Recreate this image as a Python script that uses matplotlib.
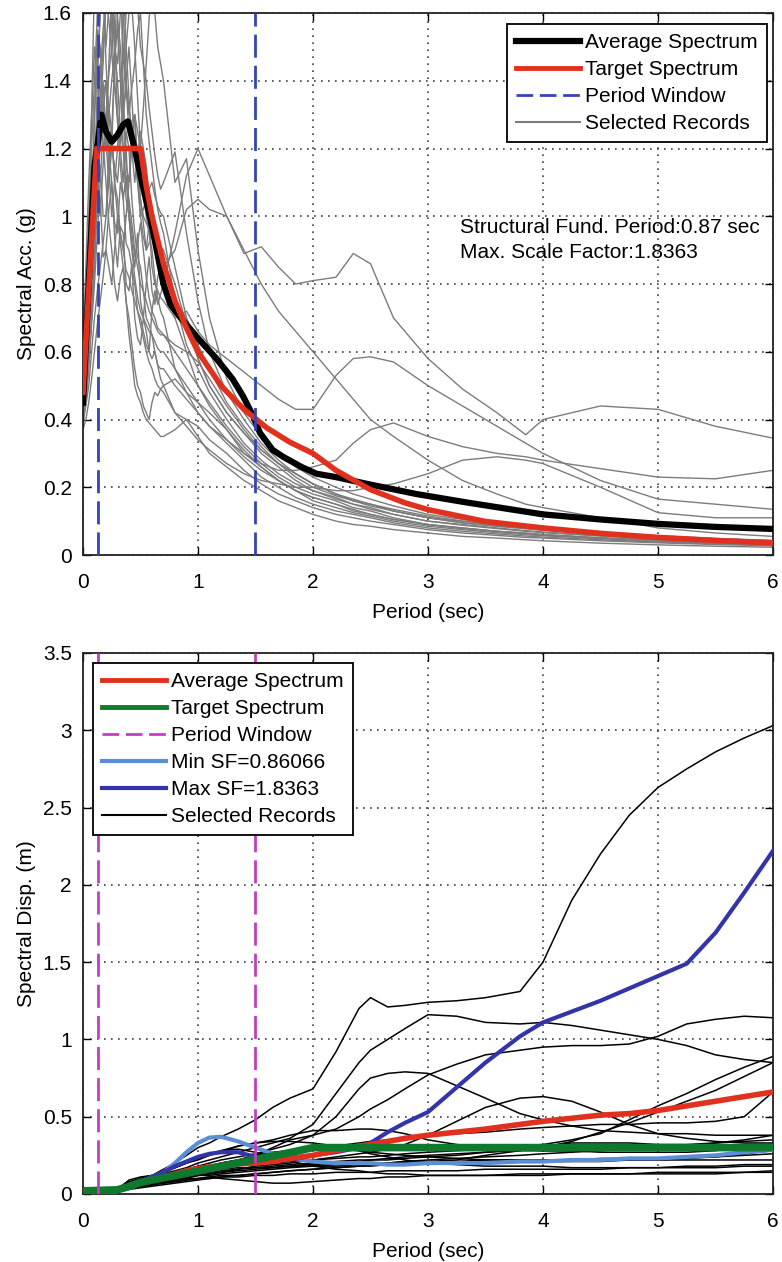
"""Spectral acceleration / displacement of selected ground-motion records."""

import matplotlib
matplotlib.use("Agg")
import matplotlib.pyplot as plt
from matplotlib.lines import Line2D

plt.rcParams["font.family"] = ["Liberation Sans", "DejaVu Sans"]
plt.rcParams["font.size"] = 15

# ---- data: spectral acceleration (g) ---------------------------------------
period_window = [0.13, 1.5]

# short periods (0 - 0.675 s, every 0.025 s) and long periods (0.7 - 6 s)
acc_short_period = [0, 0.025, 0.05, 0.075, 0.1, 0.125, 0.15, 0.175, 0.2, 0.225,
                    0.25, 0.275, 0.3, 0.325, 0.35, 0.375, 0.4, 0.425, 0.45, 0.475,
                    0.5, 0.525, 0.55, 0.575, 0.6, 0.625, 0.65, 0.675]
acc_long_period = [0.7, 0.8, 0.9, 1.0, 1.1, 1.25, 1.4, 1.55, 1.7, 1.85,
                   2.0, 2.2, 2.35, 2.5, 2.7, 3.0, 3.3, 3.6, 3.85, 4.0,
                   4.5, 5.0, 5.5, 6.0]

acc_short_records = [
    [0.40, 0.48, 0.62, 0.80, 0.95, 1.12, 1.05, 0.88, 0.90, 1.02,
     1.10, 0.94, 0.85, 0.97, 0.95, 0.80, 0.78, 0.86, 0.70, 0.64,
     0.62, 0.70, 0.66, 0.60, 0.72, 0.78, 0.74, 0.77],
    [0.45, 0.55, 0.70, 0.95, 1.30, 1.55, 1.50, 1.30, 1.25, 1.45,
     1.65, 1.50, 1.40, 1.25, 1.20, 1.05, 1.00, 0.92, 0.85, 0.95,
     0.75, 0.70, 0.80, 0.88, 0.78, 0.74, 0.82, 0.86],
    [0.50, 0.58, 0.70, 0.90, 1.10, 1.40, 1.60, 1.75, 1.45, 1.30,
     1.20, 1.45, 1.75, 1.90, 1.30, 1.15, 1.10, 1.25, 1.30, 1.12,
     1.00, 0.94, 0.90, 0.98, 0.85, 0.80, 0.78, 0.76],
    [0.46, 0.52, 0.65, 0.80, 0.95, 1.10, 1.25, 1.35, 1.40, 1.20,
     1.10, 0.98, 0.95, 1.10, 1.05, 0.92, 0.90, 0.85, 0.80, 0.72,
     0.70, 0.66, 0.62, 0.60, 0.58, 0.60, 0.56, 0.55],
    [0.41, 0.48, 0.58, 0.70, 0.85, 1.05, 1.15, 1.00, 1.00, 1.18,
     1.25, 1.10, 1.05, 0.95, 0.90, 0.84, 0.82, 0.78, 0.75, 0.72,
     0.68, 0.64, 0.60, 0.57, 0.55, 0.52, 0.50, 0.49],
    [0.42, 0.60, 0.90, 1.30, 1.70, 1.95, 1.90, 1.65, 1.50, 1.62,
     1.80, 1.55, 1.30, 1.20, 1.10, 1.25, 1.20, 1.05, 0.95, 0.88,
     0.85, 0.78, 0.70, 0.68, 0.65, 0.60, 0.56, 0.52],
    [0.55, 0.75, 1.00, 1.20, 1.40, 1.60, 1.75, 1.90, 2.00, 1.80,
     1.60, 1.50, 1.45, 1.60, 1.70, 1.50, 1.35, 1.20, 1.10, 1.18,
     1.25, 1.20, 1.15, 1.05, 0.95, 0.90, 0.86, 0.82],
    [0.38, 0.45, 0.55, 0.68, 0.80, 0.95, 1.10, 1.25, 1.30, 1.15,
     1.00, 1.10, 1.20, 1.35, 1.45, 1.60, 1.70, 1.62, 1.50, 1.35,
     1.20, 1.08, 1.00, 0.95, 0.90, 0.82, 0.76, 0.72],
    [0.50, 0.62, 0.80, 1.00, 1.20, 1.05, 1.00, 1.15, 1.30, 1.42,
     1.50, 1.68, 1.80, 1.70, 1.60, 1.40, 1.30, 1.38, 1.45, 1.55,
     1.60, 1.45, 1.30, 1.22, 1.15, 1.08, 1.02, 0.98],
    [0.45, 0.50, 0.60, 0.75, 0.90, 1.10, 1.30, 1.22, 1.10, 0.98,
     0.90, 0.80, 0.75, 0.82, 0.85, 0.75, 0.70, 0.62, 0.55, 0.50,
     0.48, 0.44, 0.42, 0.40, 0.45, 0.48, 0.47, 0.49],
    [0.40, 0.44, 0.50, 0.60, 0.70, 0.78, 0.85, 0.92, 1.00, 1.10,
     1.20, 1.15, 1.10, 1.22, 1.35, 1.50, 1.60, 1.68, 1.75, 1.62,
     1.50, 1.45, 1.40, 1.32, 1.25, 1.18, 1.12, 1.08],
    [0.60, 0.85, 1.10, 1.30, 1.50, 1.40, 1.30, 1.45, 1.65, 1.80,
     1.90, 1.75, 1.60, 1.40, 1.20, 1.10, 1.05, 0.98, 0.90, 0.85,
     0.80, 0.78, 0.75, 0.72, 0.70, 0.68, 0.66, 0.65],
    [0.37, 0.40, 0.45, 0.52, 0.60, 0.68, 0.75, 0.82, 0.90, 0.85,
     0.80, 0.90, 1.00, 0.95, 0.90, 1.00, 1.10, 1.20, 1.30, 1.25,
     1.20, 1.32, 1.45, 1.58, 1.70, 1.60, 1.50, 1.45],
    [0.48, 0.58, 0.70, 0.85, 1.00, 1.10, 1.20, 1.30, 1.40, 1.32,
     1.25, 1.10, 1.00, 0.92, 0.85, 0.75, 0.65, 0.58, 0.50, 0.47,
     0.45, 0.42, 0.40, 0.39, 0.38, 0.37, 0.36, 0.35],
    [0.43, 0.55, 0.75, 1.00, 1.30, 1.45, 1.60, 1.68, 1.75, 1.95,
     2.10, 2.00, 1.90, 1.70, 1.50, 1.38, 1.25, 1.28, 1.30, 1.15,
     1.05, 0.98, 0.90, 0.92, 0.95, 0.92, 0.88, 0.86],
    [0.52, 0.68, 0.85, 0.98, 1.10, 1.28, 1.45, 1.32, 1.20, 1.30,
     1.40, 1.48, 1.55, 1.42, 1.30, 1.40, 1.50, 1.35, 1.20, 1.10,
     1.00, 1.02, 1.05, 1.08, 1.10, 1.06, 1.03, 1.01],
    [0.44, 0.52, 0.66, 0.82, 1.00, 1.20, 1.35, 1.50, 1.62, 1.70,
     1.55, 1.40, 1.28, 1.15, 1.05, 1.12, 1.00, 0.90, 0.82, 0.76,
     0.72, 0.70, 0.68, 0.66, 0.65, 0.63, 0.61, 0.60],
    [0.39, 0.46, 0.56, 0.70, 0.88, 1.05, 1.25, 1.40, 1.22, 1.10,
     1.25, 1.45, 1.58, 1.50, 1.35, 1.20, 1.02, 0.95, 0.88, 0.92,
     0.98, 0.90, 0.82, 0.76, 0.72, 0.70, 0.67, 0.66],
    [0.47, 0.60, 0.78, 0.96, 1.15, 1.30, 1.42, 1.55, 1.65, 1.58,
     1.48, 1.38, 1.30, 1.22, 1.30, 1.38, 1.32, 1.25, 1.18, 1.10,
     1.05, 1.00, 0.98, 0.96, 0.94, 0.93, 0.92, 0.91],
]

acc_long_records = [
    [0.80, 0.95, 1.12, 1.20, 1.12, 1.00, 0.89, 0.91, 0.85, 0.80,
     0.81, 0.82, 0.89, 0.86, 0.70, 0.58, 0.49, 0.42, 0.355, 0.40,
     0.44, 0.43, 0.38, 0.345],
    [0.85, 0.90, 1.02, 1.05, 1.02, 1.00, 0.90, 0.80, 0.72, 0.66,
     0.60, 0.52, 0.46, 0.40, 0.35, 0.28, 0.22, 0.18, 0.15, 0.14,
     0.11, 0.08, 0.065, 0.055],
    [0.75, 0.70, 0.72, 0.66, 0.62, 0.58, 0.54, 0.50, 0.46, 0.43,
     0.43, 0.53, 0.58, 0.585, 0.57, 0.50, 0.44, 0.38, 0.33, 0.30,
     0.22, 0.165, 0.15, 0.135],
    [0.55, 0.50, 0.46, 0.42, 0.38, 0.34, 0.30, 0.27, 0.25, 0.25,
     0.26, 0.28, 0.33, 0.37, 0.39, 0.35, 0.32, 0.30, 0.29, 0.28,
     0.255, 0.23, 0.225, 0.25],
    [0.48, 0.42, 0.38, 0.34, 0.31, 0.27, 0.24, 0.22, 0.21, 0.20,
     0.20, 0.19, 0.19, 0.20, 0.21, 0.24, 0.28, 0.29, 0.28, 0.27,
     0.20, 0.125, 0.11, 0.11],
    [0.50, 0.42, 0.40, 0.35, 0.30, 0.26, 0.22, 0.19, 0.16, 0.14,
     0.12, 0.10, 0.09, 0.085, 0.075, 0.065, 0.055, 0.05, 0.045, 0.042,
     0.035, 0.03, 0.026, 0.023],
    [0.80, 0.70, 0.60, 0.50, 0.45, 0.38, 0.32, 0.27, 0.23, 0.20,
     0.18, 0.16, 0.14, 0.13, 0.11, 0.09, 0.08, 0.07, 0.063, 0.06,
     0.05, 0.042, 0.036, 0.032],
    [0.70, 0.55, 0.48, 0.45, 0.42, 0.37, 0.30, 0.26, 0.22, 0.19,
     0.17, 0.15, 0.13, 0.12, 0.105, 0.09, 0.08, 0.07, 0.065, 0.06,
     0.05, 0.044, 0.038, 0.033],
    [0.95, 0.75, 0.62, 0.55, 0.48, 0.40, 0.33, 0.28, 0.24, 0.21,
     0.19, 0.17, 0.15, 0.14, 0.12, 0.10, 0.09, 0.08, 0.072, 0.068,
     0.057, 0.048, 0.042, 0.037],
    [0.50, 0.52, 0.48, 0.42, 0.38, 0.33, 0.28, 0.23, 0.20, 0.17,
     0.15, 0.13, 0.12, 0.11, 0.095, 0.08, 0.07, 0.062, 0.056, 0.053,
     0.045, 0.038, 0.033, 0.029],
    [1.10, 1.19, 0.95, 0.75, 0.60, 0.48, 0.40, 0.33, 0.28, 0.24,
     0.21, 0.18, 0.16, 0.15, 0.13, 0.11, 0.095, 0.085, 0.078, 0.074,
     0.062, 0.053, 0.046, 0.04],
    [0.65, 0.60, 0.55, 0.50, 0.44, 0.37, 0.31, 0.26, 0.22, 0.19,
     0.16, 0.14, 0.125, 0.115, 0.10, 0.085, 0.075, 0.066, 0.06, 0.057,
     0.048, 0.041, 0.035, 0.031],
    [1.40, 1.10, 1.17, 0.90, 0.70, 0.52, 0.42, 0.35, 0.30, 0.26,
     0.23, 0.20, 0.18, 0.165, 0.145, 0.12, 0.105, 0.093, 0.085, 0.08,
     0.067, 0.057, 0.049, 0.043],
    [0.35, 0.37, 0.40, 0.38, 0.34, 0.30, 0.25, 0.21, 0.18, 0.16,
     0.14, 0.12, 0.11, 0.10, 0.09, 0.075, 0.065, 0.058, 0.052, 0.05,
     0.042, 0.036, 0.031, 0.027],
    [0.85, 0.75, 0.70, 0.62, 0.55, 0.45, 0.38, 0.32, 0.27, 0.24,
     0.21, 0.18, 0.16, 0.15, 0.13, 0.11, 0.10, 0.088, 0.08, 0.076,
     0.064, 0.055, 0.048, 0.042],
    [1.00, 0.85, 0.70, 0.58, 0.50, 0.42, 0.36, 0.30, 0.26, 0.22,
     0.19, 0.165, 0.15, 0.135, 0.12, 0.10, 0.088, 0.078, 0.07, 0.066,
     0.056, 0.047, 0.041, 0.036],
    [0.60, 0.55, 0.50, 0.45, 0.40, 0.34, 0.29, 0.25, 0.22, 0.19,
     0.17, 0.15, 0.135, 0.12, 0.105, 0.09, 0.078, 0.07, 0.064, 0.06,
     0.051, 0.044, 0.038, 0.034],
    [0.65, 0.62, 0.60, 0.57, 0.52, 0.44, 0.37, 0.31, 0.27, 0.23,
     0.20, 0.175, 0.16, 0.145, 0.13, 0.11, 0.095, 0.085, 0.078, 0.073,
     0.062, 0.052, 0.045, 0.04],
    [0.90, 0.80, 0.68, 0.58, 0.50, 0.42, 0.36, 0.31, 0.27, 0.24,
     0.21, 0.18, 0.165, 0.15, 0.135, 0.115, 0.1, 0.09, 0.082, 0.077,
     0.065, 0.055, 0.048, 0.042],
]

avg_acc_period = [0, 0.05, 0.1, 0.13, 0.16, 0.2, 0.25, 0.3, 0.35, 0.39, 0.45, 0.5,
                  0.6, 0.7, 0.76, 0.85, 1.0, 1.16, 1.3, 1.39, 1.48, 1.54, 1.65,
                  1.74, 1.9, 2.03, 2.2, 2.47, 2.9, 3.34, 4.0, 4.5, 5.0, 5.5, 6.0]
avg_acc = [0.45, 0.80, 1.15, 1.22, 1.30, 1.25, 1.22, 1.24, 1.27, 1.28, 1.20, 1.12,
           0.97, 0.80, 0.74, 0.70, 0.64, 0.58, 0.52, 0.47, 0.41, 0.36, 0.31,
           0.29, 0.26, 0.24, 0.23, 0.21, 0.18, 0.155, 0.12, 0.105, 0.092, 0.083, 0.077]

target_acc_period = [0, 0.12, 0.5, 0.55, 0.6, 0.7, 0.8, 0.9, 1.0, 1.2, 1.4, 1.6,
                     1.8, 2.0, 2.2, 2.5, 2.8, 3.0, 3.5, 4.0, 4.5, 5.0, 5.5, 6.0]
target_acc = [0.48, 1.20, 1.20, 1.09, 1.00, 0.86, 0.75, 0.67, 0.60, 0.50, 0.43,
              0.375, 0.333, 0.30, 0.25, 0.193, 0.154, 0.134, 0.099, 0.08, 0.064,
              0.052, 0.043, 0.036]

# ---- data: spectral displacement (m) ---------------------------------------
disp_period = [0, 0.1, 0.2, 0.3, 0.4, 0.5, 0.6, 0.7, 0.8, 0.9, 1.0, 1.1, 1.2, 1.35,
               1.5, 1.65, 1.8, 2.0, 2.2, 2.4, 2.5, 2.65, 2.8, 3.0, 3.25, 3.5, 3.8,
               4.0, 4.25, 4.5, 4.75, 5.0, 5.25, 5.5, 5.75, 6.0]

disp_records = [
    [0.0, 0.003, 0.012, 0.03, 0.09, 0.11, 0.12, 0.16, 0.20, 0.25,
     0.30, 0.33, 0.37, 0.42, 0.48, 0.56, 0.62, 0.68,
     0.92, 1.20, 1.27, 1.21, 1.22, 1.24,
     1.25, 1.27, 1.31, 1.50, 1.90, 2.20, 2.45, 2.63,
     2.75, 2.86, 2.95, 3.03],
    [0.0, 0.002, 0.01, 0.025, 0.05, 0.08, 0.10, 0.13, 0.15, 0.17,
     0.20, 0.22, 0.24, 0.27, 0.30, 0.33, 0.36, 0.45,
     0.65, 0.85, 0.93, 1.00, 1.07, 1.16,
     1.15, 1.11, 1.10, 1.11, 1.09, 1.06, 1.03, 1.00,
     0.96, 0.90, 0.87, 0.85],
    [0.0, 0.002, 0.008, 0.02, 0.04, 0.06, 0.08, 0.10, 0.13, 0.15,
     0.17, 0.18, 0.20, 0.22, 0.25, 0.30, 0.35, 0.38,
     0.42, 0.50, 0.55, 0.61, 0.68, 0.77,
     0.84, 0.90, 0.93, 0.95, 0.96, 0.96, 0.97, 1.02,
     1.10, 1.13, 1.15, 1.14],
    [0.0, 0.003, 0.01, 0.03, 0.06, 0.08, 0.10, 0.12, 0.14, 0.16,
     0.18, 0.20, 0.22, 0.24, 0.26, 0.29, 0.32, 0.38,
     0.50, 0.68, 0.75, 0.78, 0.79, 0.78,
     0.70, 0.62, 0.52, 0.48, 0.44, 0.41, 0.40, 0.39,
     0.39, 0.38, 0.38, 0.38],
    [0.0, 0.002, 0.008, 0.02, 0.04, 0.05, 0.06, 0.08, 0.09, 0.10,
     0.12, 0.13, 0.14, 0.16, 0.18, 0.19, 0.20, 0.22,
     0.24, 0.26, 0.27, 0.29, 0.32, 0.38,
     0.47, 0.56, 0.62, 0.63, 0.60, 0.53, 0.45, 0.39,
     0.36, 0.34, 0.33, 0.33],
    [0.0, 0.002, 0.01, 0.03, 0.06, 0.07, 0.08, 0.10, 0.12, 0.14,
     0.16, 0.17, 0.18, 0.19, 0.20, 0.20, 0.21, 0.22,
     0.23, 0.24, 0.24, 0.25, 0.26, 0.27,
     0.28, 0.29, 0.31, 0.32, 0.35, 0.39, 0.48, 0.57,
     0.65, 0.74, 0.82, 0.89],
    [0.0, 0.002, 0.01, 0.02, 0.04, 0.06, 0.07, 0.08, 0.10, 0.11,
     0.12, 0.13, 0.14, 0.15, 0.16, 0.17, 0.18, 0.19,
     0.20, 0.21, 0.22, 0.22, 0.23, 0.24,
     0.25, 0.27, 0.29, 0.30, 0.34, 0.40, 0.46, 0.53,
     0.60, 0.67, 0.76, 0.85],
    [0.0, 0.002, 0.01, 0.03, 0.05, 0.07, 0.09, 0.10, 0.12, 0.13,
     0.15, 0.17, 0.19, 0.21, 0.23, 0.25, 0.27, 0.29,
     0.31, 0.33, 0.34, 0.35, 0.36, 0.38,
     0.39, 0.40, 0.42, 0.43, 0.44, 0.45, 0.45, 0.46,
     0.46, 0.47, 0.50, 0.66],
    [0.0, 0.003, 0.012, 0.03, 0.07, 0.10, 0.12, 0.14, 0.17, 0.20,
     0.22, 0.25, 0.27, 0.31, 0.33, 0.35, 0.38, 0.41,
     0.41, 0.42, 0.42, 0.41, 0.39, 0.35,
     0.32, 0.30, 0.29, 0.28, 0.28, 0.29, 0.30, 0.30,
     0.31, 0.31, 0.32, 0.32],
    [0.0, 0.002, 0.01, 0.02, 0.04, 0.06, 0.08, 0.09, 0.10, 0.11,
     0.12, 0.12, 0.13, 0.14, 0.15, 0.16, 0.17, 0.18,
     0.19, 0.20, 0.20, 0.20, 0.21, 0.21,
     0.21, 0.22, 0.22, 0.22, 0.22, 0.23, 0.23, 0.23,
     0.24, 0.24, 0.25, 0.26],
    [0.0, 0.002, 0.008, 0.02, 0.03, 0.05, 0.06, 0.07, 0.08, 0.09,
     0.10, 0.10, 0.11, 0.11, 0.12, 0.12, 0.13, 0.13,
     0.14, 0.14, 0.14, 0.15, 0.15, 0.15,
     0.15, 0.16, 0.16, 0.16, 0.16, 0.16, 0.17, 0.17,
     0.17, 0.17, 0.18, 0.18],
    [0.0, 0.003, 0.01, 0.03, 0.05, 0.08, 0.10, 0.12, 0.13, 0.14,
     0.16, 0.18, 0.20, 0.22, 0.25, 0.27, 0.28, 0.29,
     0.29, 0.28, 0.27, 0.26, 0.25, 0.24,
     0.23, 0.22, 0.22, 0.21, 0.21, 0.21, 0.22, 0.22,
     0.23, 0.24, 0.26, 0.28],
    [0.0, 0.002, 0.008, 0.02, 0.04, 0.05, 0.06, 0.07, 0.08, 0.09,
     0.10, 0.11, 0.10, 0.09, 0.08, 0.07, 0.07, 0.08,
     0.09, 0.10, 0.10, 0.11, 0.11, 0.12,
     0.12, 0.12, 0.13, 0.13, 0.13, 0.13, 0.13, 0.14,
     0.14, 0.14, 0.14, 0.15],
    [0.0, 0.002, 0.01, 0.03, 0.06, 0.09, 0.11, 0.14, 0.17, 0.20,
     0.23, 0.25, 0.28, 0.31, 0.33, 0.34, 0.34, 0.33,
     0.31, 0.28, 0.26, 0.24, 0.22, 0.20,
     0.19, 0.18, 0.18, 0.18, 0.17, 0.17, 0.17, 0.17,
     0.18, 0.18, 0.19, 0.19],
    [0.0, 0.003, 0.012, 0.04, 0.08, 0.10, 0.12, 0.13, 0.14, 0.15,
     0.15, 0.16, 0.16, 0.17, 0.17, 0.17, 0.18, 0.18,
     0.18, 0.19, 0.19, 0.20, 0.20, 0.20,
     0.21, 0.21, 0.21, 0.22, 0.22, 0.22, 0.22, 0.22,
     0.22, 0.22, 0.22, 0.22],
    [0.0, 0.002, 0.008, 0.02, 0.03, 0.04, 0.05, 0.06, 0.07, 0.08,
     0.09, 0.10, 0.11, 0.12, 0.13, 0.14, 0.15, 0.16,
     0.17, 0.18, 0.19, 0.20, 0.21, 0.22,
     0.23, 0.24, 0.25, 0.26, 0.27, 0.28, 0.29, 0.30,
     0.31, 0.33, 0.34, 0.35],
    [0.0, 0.002, 0.01, 0.03, 0.05, 0.08, 0.11, 0.14, 0.17, 0.20,
     0.23, 0.26, 0.28, 0.29, 0.27, 0.24, 0.21, 0.18,
     0.16, 0.15, 0.14, 0.13, 0.13, 0.12,
     0.12, 0.12, 0.12, 0.12, 0.13, 0.13, 0.13, 0.13,
     0.13, 0.13, 0.14, 0.14],
    [0.0, 0.003, 0.01, 0.03, 0.05, 0.07, 0.09, 0.10, 0.11, 0.12,
     0.13, 0.14, 0.15, 0.16, 0.17, 0.18, 0.19, 0.20,
     0.21, 0.22, 0.22, 0.23, 0.24, 0.25,
     0.26, 0.27, 0.28, 0.28, 0.28, 0.27, 0.27, 0.27,
     0.27, 0.28, 0.30, 0.32],
    [0.0, 0.002, 0.01, 0.02, 0.04, 0.06, 0.07, 0.08, 0.09, 0.10,
     0.10, 0.11, 0.12, 0.12, 0.13, 0.14, 0.15, 0.16,
     0.17, 0.18, 0.18, 0.19, 0.20, 0.21,
     0.22, 0.25, 0.28, 0.31, 0.33, 0.33, 0.33, 0.32,
     0.32, 0.33, 0.35, 0.38],
]

avg_disp = [0.02, 0.02, 0.02, 0.025, 0.05, 0.07, 0.09, 0.11, 0.13, 0.15,
            0.165, 0.175, 0.185, 0.195, 0.20, 0.21, 0.23, 0.25,
            0.28, 0.31, 0.32, 0.34, 0.36, 0.38,
            0.40, 0.42, 0.45, 0.47, 0.49, 0.51, 0.52, 0.54,
            0.57, 0.60, 0.63, 0.66]

min_sf_disp = [0.0, 0.0, 0.005, 0.02, 0.05, 0.08, 0.11, 0.14, 0.20, 0.27,
               0.33, 0.365, 0.37, 0.34, 0.30, 0.26, 0.23, 0.21,
               0.20, 0.20, 0.20, 0.19, 0.19, 0.20,
               0.20, 0.20, 0.21, 0.21, 0.22, 0.22, 0.23, 0.23,
               0.24, 0.25, 0.27, 0.285]

max_sf_disp = [0.0, 0.0, 0.005, 0.02, 0.05, 0.08, 0.11, 0.14, 0.18, 0.21,
               0.24, 0.26, 0.27, 0.27, 0.24, 0.22, 0.22, 0.25,
               0.27, 0.30, 0.33, 0.40, 0.46, 0.53,
               0.69, 0.85, 1.02, 1.11, 1.18, 1.25, 1.33, 1.41,
               1.49, 1.69, 1.95, 2.22]

target_disp_period = [0, 0.3, 0.4, 0.5, 0.75, 1.0, 1.25, 1.5, 1.75, 2.0, 3.0, 4.0, 5.0, 6.0]
target_disp = [0.02, 0.027, 0.048, 0.075, 0.112, 0.149, 0.186, 0.224, 0.26, 0.30,
               0.30, 0.30, 0.30, 0.30]

# ---- styling ----------------------------------------------------------------
GREY = "#7c7c7c"
RED = "#e2301f"
GREEN = "#0f7a2e"
WIN_BLUE = "#3345b5"
MAGENTA = "#c23ec2"
LIGHT_BLUE = "#5a8fd6"
DARK_BLUE = "#3434aa"


def style_axes(ax, ymax, ystep, ylabels):
    ax.set_xlim(0, 6)
    ax.set_ylim(0, ymax)
    ax.set_xticks(range(7))
    ax.set_yticks([i * ystep for i in range(len(ylabels))])
    ax.set_yticklabels(ylabels)
    ax.grid(True, linestyle=(0, (1, 3.2)), color="#404040", linewidth=1.2)
    ax.set_axisbelow(True)
    ax.tick_params(direction="in", length=6, width=1.0, top=True, right=True,
                   labelsize=15)
    ax.tick_params(axis="x", pad=13)
    ax.tick_params(axis="y", pad=8)
    for s in ax.spines.values():
        s.set_linewidth(1.3)
        s.set_color("#222222")
    ax.set_xlabel("Period (sec)", fontsize=15, labelpad=8)


def legend(ax, handles, loc, anchor):
    leg = ax.legend(handles=handles, loc=loc, bbox_to_anchor=anchor,
                    borderaxespad=0, fontsize=15, handlelength=3.05,
                    handletextpad=0.25, labelspacing=0.38, borderpad=0.45,
                    fancybox=False, framealpha=1, edgecolor="black")
    leg.get_frame().set_linewidth(1.3)
    leg.set_zorder(20)


fig = plt.figure(figsize=(7.82, 12.62), dpi=100)

# ---- top: spectral acceleration ---------------------------------------------
ax1 = fig.add_axes([0.1061, 0.5602, 0.8824, 0.4295])
for short, long_ in zip(acc_short_records, acc_long_records):
    ax1.plot(acc_short_period + acc_long_period, short + long_,
             color=GREY, lw=1.0, zorder=2)
ax1.plot(avg_acc_period, avg_acc, color="black", lw=4.5, zorder=3)
ax1.plot(target_acc_period, target_acc, color=RED, lw=4.0, zorder=4)
for t in period_window:
    ax1.axvline(t, color=WIN_BLUE, lw=2, dashes=(8.3, 2.9), zorder=5)
style_axes(ax1, 1.6, 0.2, ["0", "0.2", "0.4", "0.6", "0.8", "1", "1.2", "1.4", "1.6"])
ax1.set_ylabel("Spectral Acc. (g)", fontsize=15, labelpad=5)
ax1.text(3.28, 0.967, "Structural Fund. Period:0.87 sec", fontsize=15, va="center")
ax1.text(3.28, 0.893, "Max. Scale Factor:1.8363", fontsize=15, va="center")
legend(ax1, [
    Line2D([], [], color="black", lw=4.5, label="Average Spectrum"),
    Line2D([], [], color=RED, lw=3.5, label="Target Spectrum"),
    Line2D([], [], color=WIN_BLUE, lw=2, dashes=(6, 2.4), label="Period Window"),
    Line2D([], [], color=GREY, lw=1.5, label="Selected Records"),
], "upper right", (0.991, 0.980))

# ---- bottom: spectral displacement ------------------------------------------
ax2 = fig.add_axes([0.1061, 0.0539, 0.8824, 0.4287])
for rec in disp_records:
    ax2.plot(disp_period, rec, color="black", lw=1.1, zorder=2)
ax2.plot(disp_period, min_sf_disp, color=LIGHT_BLUE, lw=3.0, zorder=3)
ax2.plot(disp_period, max_sf_disp, color=DARK_BLUE, lw=3.0, zorder=3)
ax2.plot(disp_period, avg_disp, color=RED, lw=4.0, zorder=4)
ax2.plot(target_disp_period, target_disp, color=GREEN, lw=5.5, zorder=5)
for t in period_window:
    ax2.axvline(t, color=MAGENTA, lw=2, dashes=(8.3, 2.9), zorder=6)
style_axes(ax2, 3.5, 0.5, ["0", "0.5", "1", "1.5", "2", "2.5", "3", "3.5"])
ax2.set_ylabel("Spectral Disp. (m)", fontsize=15, labelpad=5)
legend(ax2, [
    Line2D([], [], color=RED, lw=3.5, label="Average Spectrum"),
    Line2D([], [], color=GREEN, lw=3.5, label="Target Spectrum"),
    Line2D([], [], color=MAGENTA, lw=2, dashes=(6, 2.4), label="Period Window"),
    Line2D([], [], color=LIGHT_BLUE, lw=3, label="Min SF=0.86066"),
    Line2D([], [], color=DARK_BLUE, lw=3, label="Max SF=1.8363"),
    Line2D([], [], color="black", lw=1.5, label="Selected Records"),
], "upper left", (0.0145, 0.9815))

fig.savefig("out.png", dpi=100)
